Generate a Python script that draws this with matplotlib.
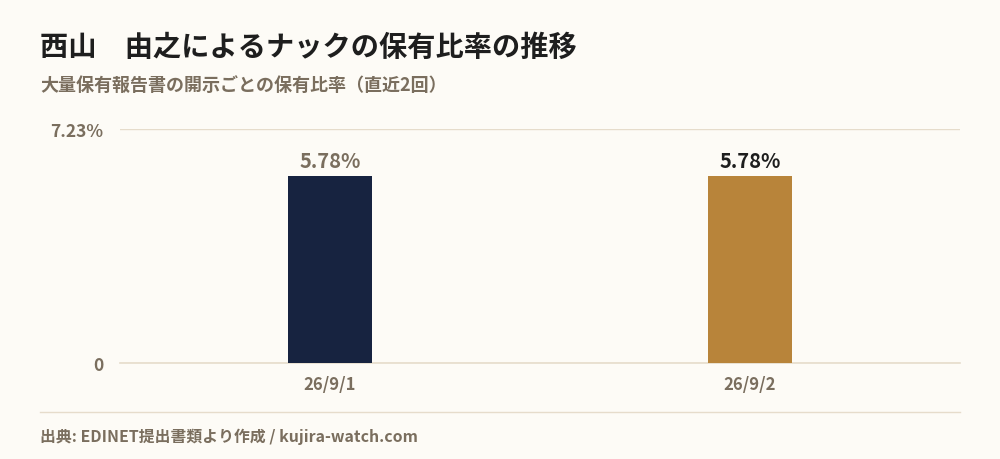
import matplotlib.pyplot as plt
from matplotlib.lines import Line2D

plt.rcParams['font.family'] = ['Noto Sans CJK JP', 'DejaVu Sans']

dates = ["26/9/1", "26/9/2"]
ratios = [5.78, 5.78]
ymax = 7.23
bar_colors = ["#172340", "#b8843a"]
label_colors = ["#7a6e5e", "#1e1e1e"]

bg = "#fdfbf6"
grid_c = "#e6dccb"
text_c = "#7a6e5e"

fig = plt.figure(figsize=(10, 4.6), dpi=100, facecolor=bg)
ax = fig.add_axes([0.12, 1 - 364 / 460, 0.84, 234 / 460])
ax.set_facecolor(bg)

x = range(len(dates))
ax.bar(x, ratios, width=0.2, color=bar_colors, zorder=3)
for i, v in enumerate(ratios):
    ax.text(i, v + 0.16, f"{v:.2f}%", ha="center", va="bottom", fontsize=14.5,
            fontweight="bold", color=label_colors[i])

ax.set_xlim(-0.5, len(dates) - 0.5)
ax.set_ylim(0, ymax)
ax.set_yticks([0, ymax])
ax.set_yticklabels(["0", f"{ymax:.2f}%"])
ax.set_xticks(list(x))
ax.set_xticklabels(dates)
ax.tick_params(length=0, labelsize=12, labelcolor=text_c, pad=12)
for lbl in ax.get_xticklabels() + ax.get_yticklabels():
    lbl.set_fontweight("bold")
ax.tick_params(axis="y", labelsize=12.5)
ax.tick_params(axis="x", pad=9)
ax.grid(axis="y", color=grid_c, linewidth=1, zorder=0)
ax.axhline(0, color=grid_c, linewidth=1.2, zorder=2, clip_on=False)
for s in ax.spines.values():
    s.set_visible(False)

fig.text(0.04, 1 - 48 / 460, "西山　由之によるナックの保有比率の推移", fontsize=20.3,
         fontweight="bold", color="#1e1e1e", va="center")
fig.text(0.04, 1 - 85 / 460, "大量保有報告書の開示ごとの保有比率（直近2回）", fontsize=13,
         fontweight="bold", color=text_c, va="center")
fig.add_artist(Line2D([0.04, 0.96], [1 - 413 / 460] * 2, color=grid_c, linewidth=1))
fig.text(0.04, 1 - 437 / 460, "出典: EDINET提出書類より作成 / kujira-watch.com", fontsize=11.4,
         fontweight="bold", color=text_c, va="center")

fig.savefig("out.png", dpi=100, facecolor=bg)
